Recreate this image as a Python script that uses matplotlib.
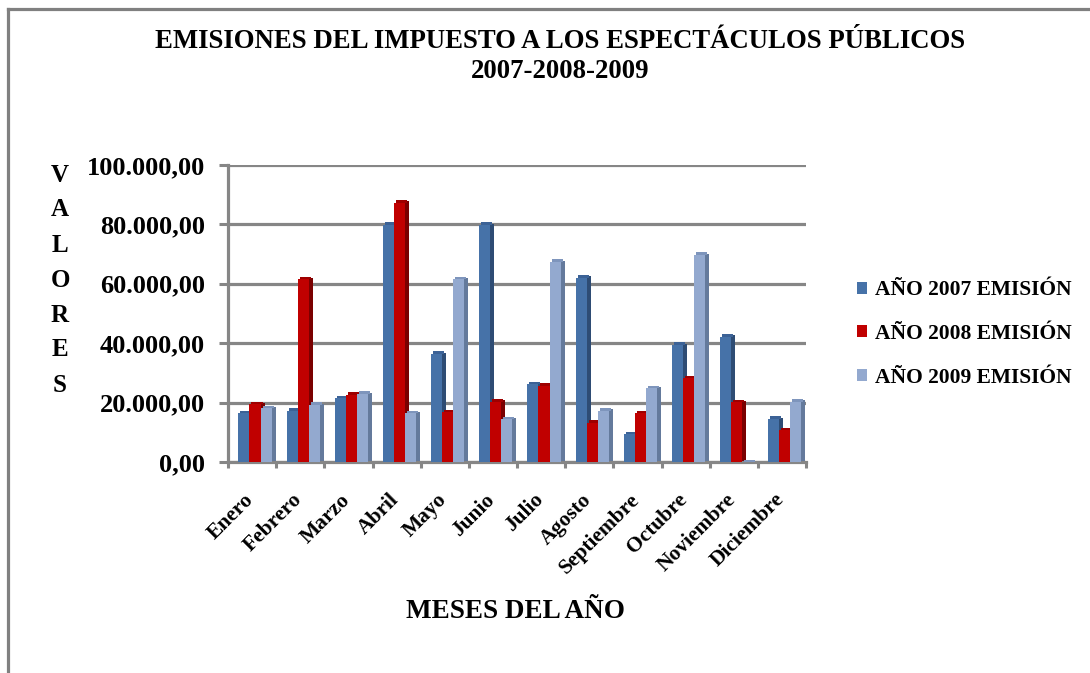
import matplotlib
matplotlib.use("Agg")
import matplotlib.pyplot as plt
import numpy as np
from matplotlib.lines import Line2D
from matplotlib.patches import Patch
from matplotlib.ticker import FuncFormatter, FixedLocator
from matplotlib.transforms import ScaledTranslation

months = ["Enero", "Febrero", "Marzo", "Abril", "Mayo", "Junio", "Julio",
          "Agosto", "Septiembre", "Octubre", "Noviembre", "Diciembre"]
series_names = ["AÑO 2007 EMISIÓN", "AÑO 2008 EMISIÓN", "AÑO 2009 EMISIÓN"]
v2007 = [16400, 17200, 21400, 79800, 36400, 79800, 26200, 62100, 9300, 39400, 42200, 14500]
v2008 = [19400, 61600, 22600, 87300, 16700, 20300, 25700, 13200, 16400, 28200, 20100, 10700]
v2009 = [18100, 19200, 22900, 16500, 61500, 14400, 67400, 17300, 24800, 69700, 0, 20300]
y_ticks = [0, 20000, 40000, 60000, 80000, 100000]

front_cols = ["#4672A8", "#C00000", "#93A9CF"]
side_cols = ["#2E4C74", "#7A0000", "#647A9C"]
top_cols = ["#3C6296", "#9E0000", "#7E95BC"]

plt.rcParams['font.family'] = ['Liberation Serif', 'DejaVu Serif']
plt.rcParams['font.weight'] = 'bold'

W, H = 1090, 673
fig = plt.figure(figsize=(W / 100, H / 100), dpi=100)
ax = fig.add_axes([228 / W, (H - 462) / H, 578 / W, 297 / H])

x = np.arange(len(months))
w = 0.23
sd = 0.083
top_h = 840
offsets = [-0.17, 0.06, 0.29]
data = [v2007, v2008, v2009]
for vals, off, fc, scol, tcol in zip(data, offsets, front_cols, side_cols, top_cols):
    vals = np.array(vals, dtype=float)
    ax.bar(x + off + w / 2 + sd / 2, vals, width=sd, bottom=top_h / 2,
           color=scol, linewidth=0, zorder=3)
    ax.bar(x + off + sd / 2, top_h, width=w, bottom=vals,
           color=tcol, linewidth=0, zorder=3)
    ax.bar(x + off, vals, width=w, color=fc, linewidth=0, zorder=3)

grey = "#868686"
ax.set_xlim(-0.5, len(months) - 0.5)
ax.set_ylim(0, 100000)
ax.yaxis.set_major_locator(FixedLocator(y_ticks))


def es_fmt(v, pos):
    s = f"{v:,.2f}"
    return s.replace(",", "X").replace(".", ",").replace("X", ".")


ax.yaxis.set_major_formatter(FuncFormatter(es_fmt))
ax.grid(axis='y', color=grey, linewidth=2.3, zorder=0)
ax.set_axisbelow(True)

for s in ["top", "right"]:
    ax.spines[s].set_visible(False)
for s in ["left", "bottom"]:
    ax.spines[s].set_color(grey)
    ax.spines[s].set_linewidth(2.3)

ax.tick_params(axis='y', direction='out', length=6.5, width=2.2, color=grey,
               pad=10, labelsize=19)
ax.set_xticks(np.arange(-0.5, len(months), 1.0))
ax.set_xticklabels([])
ax.tick_params(axis='x', which='major', direction='out', length=4, width=2.2, color=grey)
ax.set_xticks(x, minor=True)
ax.set_xticklabels(months, minor=True, rotation=45, ha='right', va='top',
                   rotation_mode='anchor', fontsize=15.5)
ax.tick_params(axis='x', which='minor', length=0, pad=20)
shift = ScaledTranslation(-8 / 100, 0, fig.dpi_scale_trans)
for lbl in ax.get_xticklabels(minor=True):
    lbl.set_fontweight('bold')
    lbl.set_transform(lbl.get_transform() + shift)
for lbl in ax.get_yticklabels():
    lbl.set_fontweight('bold')

fig.text(560 / W, 1 - 41 / H, "EMISIONES DEL IMPUESTO A LOS ESPECTÁCULOS PÚBLICOS",
         ha='center', va='center', fontsize=19.3, fontweight='bold')
fig.text(560 / W, 1 - 72 / H, "2007-2008-2009",
         ha='center', va='center', fontsize=19.3, fontweight='bold')
fig.text(515 / W, 1 - 612 / H, "MESES DEL AÑO", ha='center', va='center',
         fontsize=19.5, fontweight='bold')

for i, ch in enumerate("VALORES"):
    fig.text(60 / W, 1 - (175 + i * 35) / H, ch, ha='center', va='center',
             fontsize=18, fontweight='bold')

handles = [Patch(facecolor=c, edgecolor='none') for c in front_cols]
fig.legend(handles, series_names, loc='center left',
           bbox_to_anchor=(857 / W, 1 - 334 / H), frameon=False,
           prop={'weight': 'bold', 'size': 15.5},
           handlelength=0.47, handleheight=0.47, handletextpad=0.35,
           labelspacing=1.1, borderpad=0, borderaxespad=0)

fig.add_artist(Line2D([8 / W, 1], [1 - 9 / H, 1 - 9 / H], color="#808080",
                      linewidth=2.3, transform=fig.transFigure))
fig.add_artist(Line2D([8 / W, 8 / W], [0, 1 - 9 / H], color="#808080",
                      linewidth=2.3, transform=fig.transFigure))

fig.savefig("out.png", dpi=100)
